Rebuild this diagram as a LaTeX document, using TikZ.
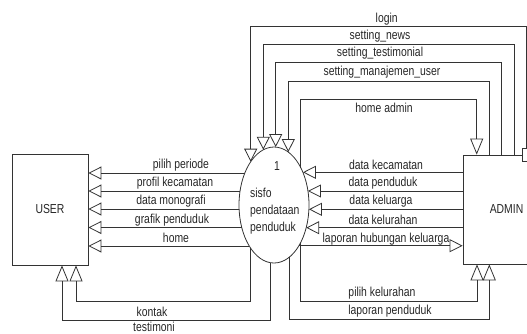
\documentclass[tikz,border=0pt]{standalone}
\usepackage{fontspec}
\setmainfont{Liberation Sans}[FakeStretch=0.8]
\usetikzlibrary{arrows.meta,shapes.geometric}
\begin{document}
\begin{tikzpicture}[x=1pt,y=-1pt,
  font=\fontsize{13}{15}\selectfont,
  declare function={
    exl(\t)=274-35*sqrt(1-((\t-205)/58)^2);
    exr(\t)=274+35*sqrt(1-((\t-205)/58)^2);
    eyt(\t)=205-58*sqrt(1-((\t-274)/35)^2);
    eyb(\t)=205+58*sqrt(1-((\t-274)/35)^2);},
  flow/.style={draw=black!80,line width=0.8pt},
  arr/.style={-{Triangle[open,length=13pt,width=13pt]}},
  barr/.style={-{Triangle[open,length=16pt,width=13pt]}},
  box/.style={draw=black!80,line width=0.8pt,rectangle,inner sep=0pt,text=black!85},
  lbl/.style={inner sep=0pt,text=black!85}
]
\useasboundingbox (0,0) rectangle (527,333);

% entities and process
\node[box, minimum width=76pt, minimum height=111pt] (user) at (50,209.5) {USER};
\node[box, minimum width=87pt, minimum height=109pt] (admin) at (506.5,209.5) {ADMIN};
\node[box, fill=white, minimum width=6.6pt, minimum height=13pt] (sbox) at (526,154.5) {};
\node[ellipse, draw=black!80, line width=0.8pt, minimum width=70pt, minimum height=116pt, inner sep=0pt] (ell) at (274,205) {};
\node[lbl] (pnum) at (277,166) {1};
\node[lbl, anchor=west] (pt1) at (250,193) {sisfo};
\node[lbl, anchor=west] (pt2) at (250,211) {pendataan};
\node[lbl, anchor=west] (pt3) at (250,228.5) {penduduk};

% points on the ellipse border
\coordinate (eL1) at ({exl(173)},173);
\coordinate (eL2) at ({exl(191)},191);
\coordinate (eL3) at ({exl(209)},209);
\coordinate (eL4) at ({exl(227.5)},227.5);
\coordinate (eL5) at ({exl(246)},246);
\coordinate (eR1) at ({exr(172.3)},172.3);
\coordinate (eR2) at ({exr(191)},191);
\coordinate (eR3) at ({exr(209.3)},209.3);
\coordinate (eR4) at ({exr(227.7)},227.7);
\coordinate (eR5) at ({exr(245.7)},245.7);
\coordinate (t1) at (250.7,{eyt(250.7)});
\coordinate (t2) at (263.3,{eyt(263.3)});
\coordinate (t3) at (275.7,{eyt(275.7)});
\coordinate (t4) at (288.3,{eyt(288.3)});
\coordinate (h0) at (300.7,{eyt(300.7)});
\coordinate (b1) at (250.7,{eyb(250.7)});
\coordinate (b2) at (270,{eyb(270)});
\coordinate (b3) at (289,{eyb(289)});
\coordinate (b4) at (300.7,{eyb(300.7)});

% flows to USER
\draw[flow,arr] (eL1) -- (eL1 -| user.east);
\draw[flow,arr] (eL2) -- (eL2 -| user.east);
\draw[flow,arr] (eL3) -- (eL3 -| user.east);
\draw[flow,arr] (eL4) -- (eL4 -| user.east);
\draw[flow,arr] (eL5) -- (eL5 -| user.east);
\draw[flow,barr] (b1) -- (250.7,301) -- (76,301) -- (user.south -| 76,0);
\draw[flow,barr] (b2) -- (270,320) -- (62,320) -- (user.south -| 62,0);

% flows between process and ADMIN
\draw[flow,arr] (eR1 -| admin.west) -- (eR1);
\draw[flow,arr] (eR2 -| admin.west) -- (eR2);
\draw[flow,arr] (eR3 -| admin.west) -- (eR3);
\draw[flow,arr] (eR4 -| admin.west) -- (eR4);
\draw[flow,arr] (eR5) -- (eR5 -| admin.west);
\draw[flow,barr] (b4) -- (300.7,301) -- (477,301) -- (admin.south -| 477,0);
\draw[flow,barr] (b3) -- (289,319) -- (489.3,319) -- (admin.south -| 489.3,0);
\draw[flow,arr] (sbox.north) -- (526,26) -- (250.7,26) -- (t1);
\draw[flow,arr] (admin.north -| 514,0) -- (514,44) -- (263.3,44) -- (t2);
\draw[flow,arr] (admin.north -| 501.7,0) -- (501.7,62.7) -- (275.7,62.7) -- (t3);
\draw[flow,arr] (admin.north -| 489.3,0) -- (489.3,81) -- (288.3,81) -- (t4);
\draw[flow,barr] (h0) -- (300.7,99.3) -- (476.7,99.3) -- (admin.north -| 476.7,0);

% labels
\node[lbl] (l1) at (386.7,18.7) {login};
\node[lbl] (l2) at (380,36) {setting\_news};
\node[lbl] (l3) at (380,53.5) {setting\_testimonial};
\node[lbl] (l4) at (382,72) {setting\_manajemen\_user};
\node[lbl] (l5) at (384,108) {home admin};
\node[lbl] (u1) at (181,165) {pilih periode};
\node[lbl] (u2) at (175,183) {profil kecamatan};
\node[lbl] (u3) at (171,201.5) {data monografi};
\node[lbl] (u4) at (172,220) {grafik penduduk};
\node[lbl] (u5) at (176,238) {home};
\node[lbl] (a1) at (386,165) {data kecamatan};
\node[lbl] (a2) at (383,183) {data penduduk};
\node[lbl] (a3) at (381,201) {data keluarga};
\node[lbl] (a4) at (383,220) {data kelurahan};
\node[lbl] (a5) at (386,239) {laporan hubungan keluarga};
\node[lbl] (a6) at (382,293) {pilih kelurahan};
\node[lbl] (a7) at (390,311) {laporan penduduk};
\node[lbl] (k1) at (152,311.5) {kontak};
\node[lbl] (k2) at (154,326.5) {testimoni};
\end{tikzpicture}
\end{document}
